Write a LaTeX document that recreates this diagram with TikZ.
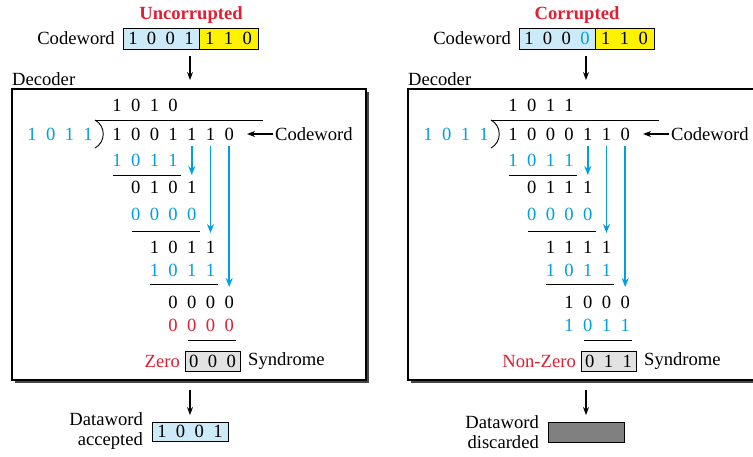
\documentclass[tikz,border=0pt]{standalone}
\usepackage{fontspec}
\setmainfont{Liberation Serif}
\usetikzlibrary{positioning,arrows.meta,shadows}
\definecolor{bitblue}{RGB}{0,160,222}
\definecolor{bitred}{RGB}{226,30,50}
\definecolor{cwblue}{RGB}{204,234,248}
\definecolor{cwyellow}{RGB}{255,242,0}
\definecolor{syngray}{RGB}{226,226,226}
\definecolor{dropgray}{RGB}{128,128,128}
\definecolor{shadowgray}{RGB}{70,70,70}

\newcommand{\gap}{\hspace{9.4pt}}
% one row of the long division: name, y, first column, bits, colour
\newcommand{\bitrow}[5]{%
  \foreach \dig [count=\i from #3] in {#4}
    \node[bit,#5] (#1\i) at (98.3+18.7*\i,#2) {\dig};}

\tikzset{
  bit/.style={inner sep=0},
  lbl/.style={inner sep=0},
  word/.style={draw,line width=1pt,minimum height=21pt,inner sep=0,outer sep=0},
  decoder/.style={draw,fill=white,line width=1.2pt,minimum width=354pt,
    minimum height=291pt,anchor=north west,outer sep=0,
    drop shadow={shadow xshift=3pt,shadow yshift=-3pt,fill=shadowgray,opacity=1}},
  arr/.style={-{Stealth[length=8pt,width=6pt]},line width=1.1pt},
  barr/.style={-{Stealth[length=9pt,width=7pt]},line width=1.6pt,bitblue},
  rule/.style={line width=0.9pt},
}

\begin{document}
\begin{tikzpicture}[x=1pt,y=-1pt,font=\fontsize{18.6}{20}\selectfont]
\useasboundingbox (0,0) rectangle (753,456);
\clip (0,0) rectangle (753,456);

%%% uncorrupted codeword
\begin{scope}[name prefix=L-]
\node[lbl,text=bitred,font=\fontsize{18.6}{20}\selectfont\bfseries] (title) at (191,15) {Uncorrupted};
\node[word,fill=cwblue,minimum width=76pt] (cwA) at (161,38.5) {1\gap0\gap0\gap1};
\node[word,fill=cwyellow,minimum width=59pt,right=0pt of cwA] (cwB) {1\gap1\gap0};
\node[lbl,left=8pt of cwA] (cw) {Codeword};
\node[lbl,anchor=west] (declbl) at (12,79) {Decoder};
\node[decoder] (dec) at (12,89) {};
\draw[arr,shorten <=7pt,shorten >=9pt] ([xshift=-9pt]cwA.south east) -- ([xshift=-9pt]cwA.south east |- dec.north);

% long division
\bitrow{q}{105}{1}{1,0,1,0}{}
\foreach \dig [count=\i from 0] in {1,0,1,1}
  \node[bit,bitblue] (v\i) at (32+18.7*\i,134) {\dig};
\bitrow{d}{134}{1}{1,0,0,1,1,1,0}{}
\bitrow{a}{160}{1}{1,0,1,1}{bitblue}
\bitrow{b}{187}{2}{0,1,0,1}{}
\bitrow{c}{214}{2}{0,0,0,0}{bitblue}
\bitrow{e}{247}{3}{1,0,1,1}{}
\bitrow{f}{270}{3}{1,0,1,1}{bitblue}
\bitrow{g}{302}{4}{0,0,0,0}{}
\bitrow{h}{325}{4}{0,0,0,0}{bitred}
\draw[rule] (95,120) -- (263,120);
\draw[rule] (95,120) .. controls (106,126) and (106,142) .. (95,148);
\draw[rule] (113,175) -- (181,175) coordinate (r1);
\draw[rule] (132,231) -- (200,231) coordinate (r2);
\draw[rule] (150,284) -- (218,284) coordinate (r3);
\draw[rule] (188,340) -- (236,340);
\draw[barr,shorten <=6pt] (d5.south) -- (d5.south |- r1);
\draw[barr,shorten <=6pt] (d6.south) -- ([yshift=-2pt]d6.south |- r2);
\draw[barr,shorten <=6pt] (d7.south) -- ([yshift=-3pt]d7.south |- r3);
\node[lbl,anchor=west] (cwlbl) at (275,134) {Codeword};
\draw[arr,shorten <=2pt,shorten >=13pt] (cwlbl.west) -- (d7.east);

% syndrome and dataword
\node[word,fill=syngray,minimum width=55pt,minimum height=20pt] (syn) at (212.5,361) {0\gap0\gap0};
\node[lbl,left=5pt of syn,text=bitred] (zero) {Zero};
\node[lbl,right=8pt of syn] (synlbl) {Syndrome};
\node[word,fill=cwblue,minimum width=76pt,minimum height=19pt] (dw) at (190,431.5) {1\gap0\gap0\gap1};
\node[lbl,left=9pt of dw,align=right] (dwlbl) {Dataword\\accepted};
\draw[arr,shorten <=10pt,shorten >=7pt] (dec.south -| dw.north) -- (dw.north);
\end{scope}

%%% corrupted codeword
\begin{scope}[shift={(396,0)},name prefix=R-]
\node[lbl,text=bitred,font=\fontsize{18.6}{20}\selectfont\bfseries] (title) at (181,15) {Corrupted};
\node[word,fill=cwblue,minimum width=76pt] (cwA) at (161,38.5) {1\gap0\gap0\gap{\color{bitblue}0}};
\node[word,fill=cwyellow,minimum width=59pt,right=0pt of cwA] (cwB) {1\gap1\gap0};
\node[lbl,left=8pt of cwA] (cw) {Codeword};
\node[lbl,anchor=west] (declbl) at (12,79) {Decoder};
\node[decoder] (dec) at (12,89) {};
\draw[arr,shorten <=7pt,shorten >=9pt] ([xshift=-9pt]cwA.south east) -- ([xshift=-9pt]cwA.south east |- dec.north);

% long division
\bitrow{q}{105}{1}{1,0,1,1}{}
\foreach \dig [count=\i from 0] in {1,0,1,1}
  \node[bit,bitblue] (v\i) at (32+18.7*\i,134) {\dig};
\bitrow{d}{134}{1}{1,0,0,0,1,1,0}{}
\bitrow{a}{160}{1}{1,0,1,1}{bitblue}
\bitrow{b}{187}{2}{0,1,1,1}{}
\bitrow{c}{214}{2}{0,0,0,0}{bitblue}
\bitrow{e}{247}{3}{1,1,1,1}{}
\bitrow{f}{270}{3}{1,0,1,1}{bitblue}
\bitrow{g}{302}{4}{1,0,0,0}{}
\bitrow{h}{325}{4}{1,0,1,1}{bitblue}
\draw[rule] (95,120) -- (263,120);
\draw[rule] (95,120) .. controls (106,126) and (106,142) .. (95,148);
\draw[rule] (113,175) -- (181,175) coordinate (r1);
\draw[rule] (132,231) -- (200,231) coordinate (r2);
\draw[rule] (150,284) -- (218,284) coordinate (r3);
\draw[rule] (188,340) -- (236,340);
\draw[barr,shorten <=6pt] (d5.south) -- (d5.south |- r1);
\draw[barr,shorten <=6pt] (d6.south) -- ([yshift=-2pt]d6.south |- r2);
\draw[barr,shorten <=6pt] (d7.south) -- ([yshift=-3pt]d7.south |- r3);
\node[lbl,anchor=west] (cwlbl) at (275,134) {Codeword};
\draw[arr,shorten <=2pt,shorten >=13pt] (cwlbl.west) -- (d7.east);

% syndrome and dataword
\node[word,fill=syngray,minimum width=55pt,minimum height=20pt] (syn) at (212.5,361) {0\gap1\gap1};
\node[lbl,left=5pt of syn,text=bitred] (nonzero) {Non-Zero};
\node[lbl,right=8pt of syn] (synlbl) {Syndrome};
\node[word,fill=dropgray,minimum width=76pt,minimum height=20pt] (dw) at (190,432) {};
\node[lbl,left=9pt of dw,align=right] (dwlbl) {Dataword\\discarded};
\draw[arr,shorten <=10pt,shorten >=7pt] (dec.south -| dw.north) -- (dw.north);
\end{scope}
\end{tikzpicture}
\end{document}
